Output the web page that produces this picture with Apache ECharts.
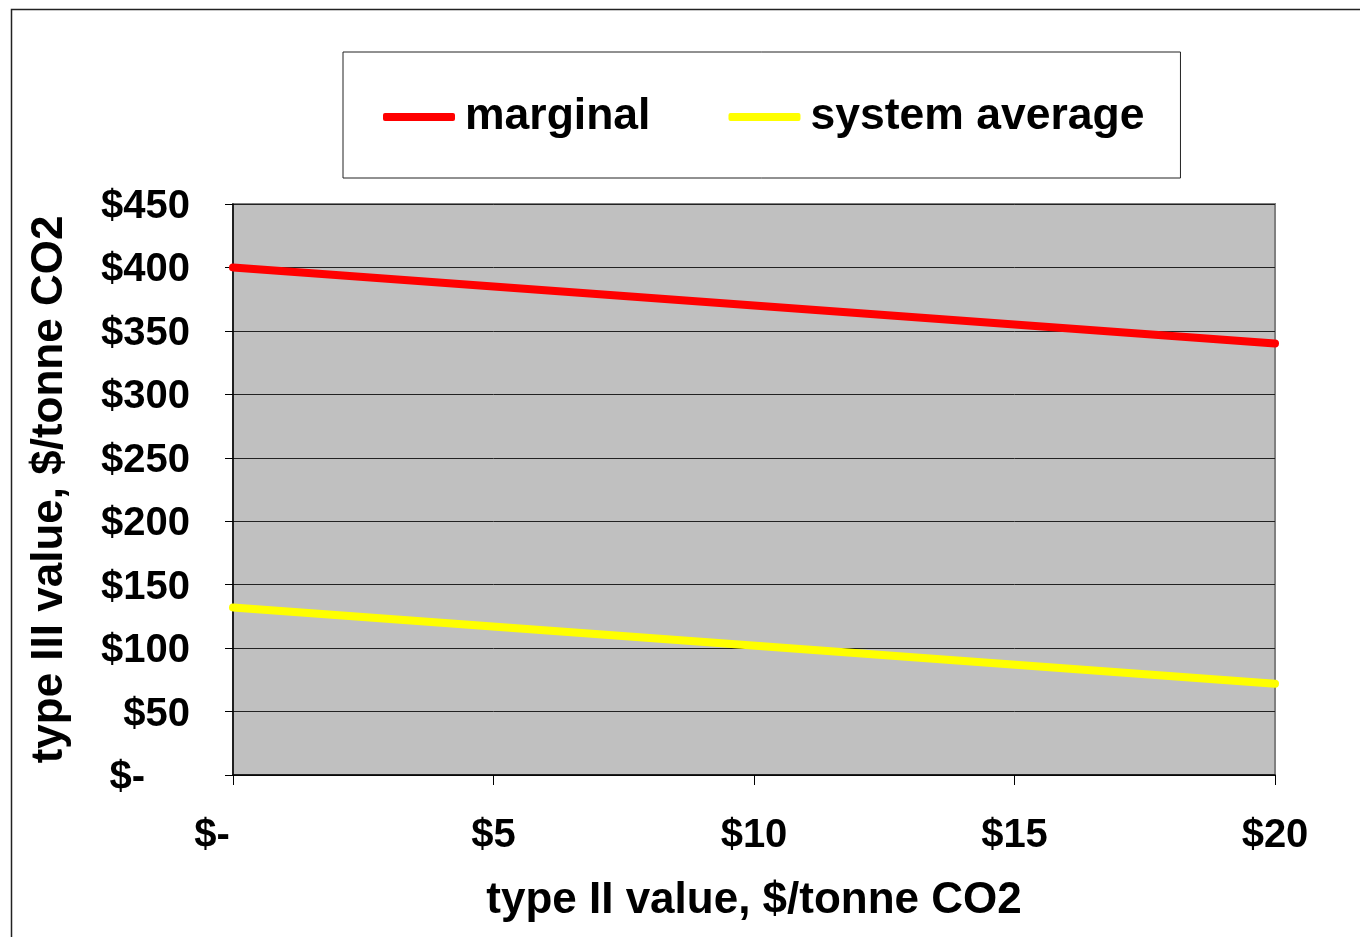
<!DOCTYPE html>
<html><head><meta charset="utf-8">
<script src="https://cdn.jsdelivr.net/npm/echarts@6/dist/echarts.min.js"></script>
<style>html,body{margin:0;padding:0;background:#fff}#c{width:1360px;height:937px}</style>
</head><body><div id="c"></div>
<script>
const xValues = [0, 20];
const marginal = [400, 340];
const systemAverage = [132, 72];
const seriesNames = ['marginal', 'system average'];
const xTitle = 'type II value, $/tonne CO2';
const yTitle = 'type III value, $/tonne CO2';

const font = 'Liberation Sans, Arial, sans-serif';
const chart = echarts.init(document.getElementById('c'), null, {renderer: 'canvas'});
chart.setOption({
  animation: false,
  backgroundColor: '#fff',
  graphic: [{type: 'rect', left: 9, top: 7, shape: {x: 0, y: 0, width: 1400, height: 1000},
    style: {fill: 'none', stroke: '#222', lineWidth: 1.5}, z: -1}],
  legend: {
    left: 343, top: 52,
    padding: [40, 36, 36, 40],
    borderColor: '#222', borderWidth: 1,
    itemWidth: 72, itemHeight: 8, itemGap: 78,
    icon: 'roundRect',
    textStyle: {fontFamily: font, fontWeight: 'bold', fontSize: 44.5, color: '#000', lineHeight: 50, padding: [0, 0, 0, 5]},
    data: seriesNames
  },
  grid: {left: 233, right: 85, top: 204, bottom: 162, show: true, backgroundColor: '#c0c0c0', borderColor: '#808080', borderWidth: 2},
  xAxis: {
    type: 'value', min: 0, max: 20, interval: 5,
    name: xTitle, nameLocation: 'middle', nameGap: 104,
    nameTextStyle: {fontFamily: font, fontWeight: 'bold', fontSize: 44, color: '#000'},
    axisLine: {show: true, lineStyle: {color: '#000', width: 1.5}},
    axisTick: {show: true, length: 10, lineStyle: {color: '#000'}},
    splitLine: {show: false},
    axisLabel: {margin: 41, fontFamily: font, fontWeight: 'bold', fontSize: 40, color: '#000',
      formatter: v => v === 0 ? '{z|$-}' : '$' + v,
      rich: {z: {fontFamily: font, fontWeight: 'bold', fontSize: 40, color: '#000', padding: [0, 42, 0, 0]}}}
  },
  yAxis: {
    type: 'value', min: 0, max: 450, interval: 50,
    name: yTitle, nameLocation: 'middle', nameGap: 161,
    nameTextStyle: {fontFamily: font, fontWeight: 'bold', fontSize: 44, color: '#000'},
    axisLine: {show: true, lineStyle: {color: '#000', width: 1.5}},
    axisTick: {show: true, length: 8, lineStyle: {color: '#000'}},
    splitLine: {show: true, lineStyle: {color: '#222', width: 1}},
    axisLabel: {margin: 43, fontFamily: font, fontWeight: 'bold', fontSize: 40, color: '#000', padding: [6, 0, 0, 0],
      formatter: v => v === 0 ? '{z|$-}' : '$' + v,
      rich: {z: {fontFamily: font, fontWeight: 'bold', fontSize: 40, color: '#000', padding: [0, 45, 0, 0]}}}
  },
  series: [
    {name: seriesNames[0], type: 'line', data: xValues.map((x, i) => [x, marginal[i]]),
      showSymbol: false, symbol: 'none', color: '#ff0000', lineStyle: {color: '#ff0000', width: 8, cap: 'round'}},
    {name: seriesNames[1], type: 'line', data: xValues.map((x, i) => [x, systemAverage[i]]),
      showSymbol: false, symbol: 'none', color: '#ffff00', lineStyle: {color: '#ffff00', width: 8, cap: 'round'}}
  ]
});
</script></body></html>
